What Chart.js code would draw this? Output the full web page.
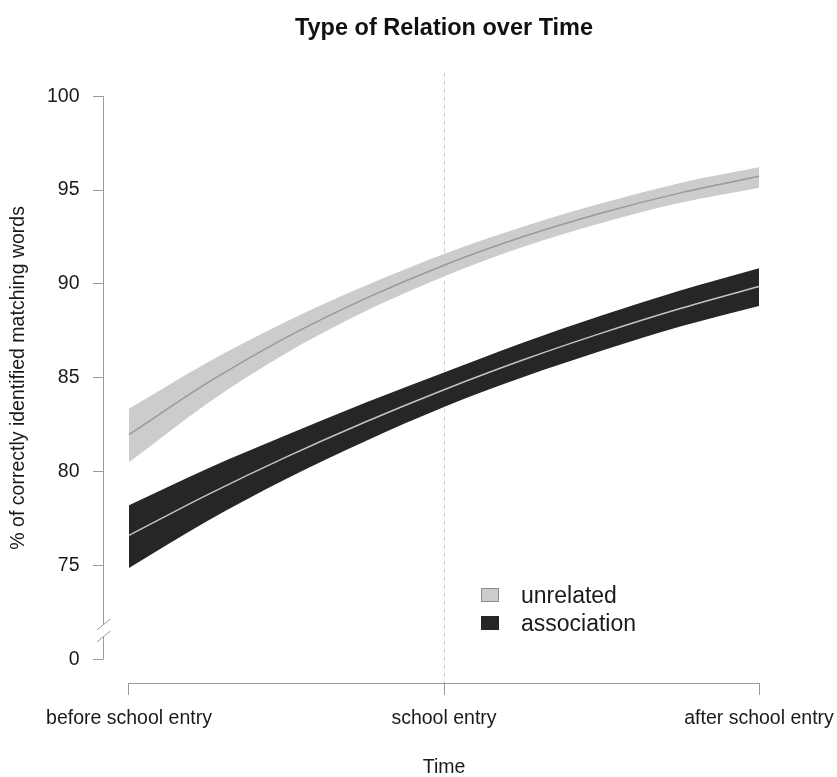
<!DOCTYPE html>
<html>
<head>
<meta charset="utf-8">
<title>Type of Relation over Time</title>
<script src="https://cdn.jsdelivr.net/npm/chart.js@4.4.1/dist/chart.umd.min.js"></script>
<style>
  html, body { margin: 0; padding: 0; background: #fff; }
  #wrap { width: 837px; height: 777px; }
</style>
</head>
<body>
<div id="wrap"><canvas id="relChart" width="837" height="777"></canvas></div>
<script>
// time points (-1 = before school entry, 0 = school entry, 1 = after)
var timePoints = [-1, -0.75, -0.5, -0.25, 0, 0.25, 0.5, 0.75, 1];

var unrelatedFit  = [81.97, 84.74, 87.16, 89.22, 91.0, 92.51, 93.78, 94.85, 95.73];
var unrelatedLow  = [80.5, 83.65, 86.32, 88.54, 90.4, 91.97, 93.25, 94.32, 95.12];
var unrelatedHigh = [83.35, 85.83, 88.0, 89.9, 91.6, 93.05, 94.3, 95.38, 96.21];

var assocFit  = [76.61, 78.78, 80.79, 82.65, 84.37, 85.95, 87.38, 88.69, 89.86];
var assocLow  = [74.88, 77.39, 79.63, 81.63, 83.45, 85.03, 86.44, 87.73, 88.83];
var assocHigh = [78.21, 80.17, 81.95, 83.67, 85.29, 86.87, 88.32, 89.65, 90.83];

var xTickValues = [-1, 0, 1];
var xTickLabels = ['before school entry', 'school entry', 'after school entry'];
var yTickValues = [70, 75, 80, 85, 90, 95, 100];
var yTickLabels = ['0', '75', '80', '85', '90', '95', '100'];

var axisGray = '#9a9a9a';
var fontName = '"Liberation Sans", Arial, Helvetica, sans-serif';

function pts(values) {
  return timePoints.map(function(t, i) { return {x: t, y: values[i]}; });
}

function band(label, values, color, fill) {
  return {
    label: label,
    data: pts(values),
    borderWidth: 0,
    borderColor: color,
    backgroundColor: color,
    pointRadius: 0,
    fill: fill,
    order: 2,
    cubicInterpolationMode: 'monotone'
  };
}

function centre(values, color) {
  return {
    label: '',
    data: pts(values),
    borderWidth: 1.5,
    borderColor: color,
    pointRadius: 0,
    fill: false,
    order: 1,
    cubicInterpolationMode: 'monotone'
  };
}

// axis lines, y-axis break, dashed reference line and legend
var decorations = {
  id: 'decorations',
  beforeDraw: function(chart) {
    var ctx = chart.ctx, area = chart.chartArea;
    var xs = chart.scales.x;
    var x0 = Math.round(xs.getPixelForValue(0)) + 0.5;
    ctx.save();
    ctx.strokeStyle = '#d0d0d0';
    ctx.lineWidth = 1;
    ctx.setLineDash([4, 4]);
    ctx.beginPath();
    ctx.moveTo(x0, area.top);
    ctx.lineTo(x0, area.bottom);
    ctx.stroke();
    ctx.restore();
  },
  afterDraw: function(chart) {
    var ctx = chart.ctx, area = chart.chartArea;
    var xs = chart.scales.x, ys = chart.scales.y;
    var left = area.left + 0.5;
    var bottom = Math.round(area.bottom) + 0.5;

    ctx.save();
    ctx.strokeStyle = axisGray;
    ctx.lineWidth = 1;

    // x axis
    ctx.beginPath();
    ctx.moveTo(xs.getPixelForValue(xTickValues[0]), bottom);
    ctx.lineTo(xs.getPixelForValue(xTickValues[xTickValues.length - 1]), bottom);
    ctx.stroke();

    // y axis with break
    var yTop = ys.getPixelForValue(100);
    var yBottom = ys.getPixelForValue(70);
    var yBreak = ys.getPixelForValue(71.55);
    ctx.beginPath();
    ctx.moveTo(left, yTop);
    ctx.lineTo(left, yBreak - 6);
    ctx.moveTo(left, yBreak + 6);
    ctx.lineTo(left, yBottom);
    // break marks
    ctx.moveTo(left - 6.5, yBreak - 0.5);
    ctx.lineTo(left + 7, yBreak - 11.5);
    ctx.moveTo(left - 6.5, yBreak + 11.5);
    ctx.lineTo(left + 7, yBreak + 0.5);
    ctx.stroke();

    // legend
    var items = chart.data.datasets.filter(function(d) { return d.legendEntry; });
    ctx.font = '23px ' + fontName;
    ctx.textBaseline = 'alphabetic';
    ctx.textAlign = 'left';
    items.forEach(function(d, i) {
      var boxTop = 588 + i * 28;
      ctx.fillStyle = d.backgroundColor;
      ctx.fillRect(481, boxTop, 18, 14);
      ctx.strokeStyle = d.legendEdge;
      ctx.strokeRect(481.5, boxTop + 0.5, 17, 13);
      ctx.fillStyle = '#1a1a1a';
      ctx.fillText(d.label, 521, 603 + i * 28);
    });
    ctx.restore();
  }
};

var unrelatedBand = band('unrelated', unrelatedHigh, '#cccccc', '+1');
unrelatedBand.legendEntry = true;
unrelatedBand.legendEdge = '#8c8c8c';
var assocBand = band('association', assocHigh, '#262626', '+1');
assocBand.legendEntry = true;
assocBand.legendEdge = '#262626';

var ctx = document.getElementById('relChart').getContext('2d');
var chart = new Chart(ctx, {
  type: 'line',
  data: {
    datasets: [
      unrelatedBand,
      band('', unrelatedLow, '#cccccc', false),
      centre(unrelatedFit, '#999999'),
      assocBand,
      band('', assocLow, '#262626', false),
      centre(assocFit, '#c4c4c4')
    ]
  },
  options: {
    responsive: false,
    animation: false,
    layout: { padding: { left: 0, right: 52, top: 0, bottom: 0 } },
    plugins: {
      legend: { display: false },
      tooltip: { enabled: false },
      filler: { drawTime: 'beforeDatasetsDraw' },
      title: {
        display: true,
        fullSize: false,
        text: 'Type of Relation over Time',
        color: '#111',
        font: { family: fontName, size: 23.5, weight: 'bold', lineHeight: 1.2 },
        padding: { top: 14.5, bottom: 30 }
      }
    },
    scales: {
      x: {
        type: 'linear',
        min: -1.0825,
        max: 1.0825,
        border: { display: false },
        grid: {
          drawOnChartArea: false,
          drawTicks: true,
          tickLength: 12,
          tickColor: axisGray,
          color: axisGray
        },
        afterBuildTicks: function(scale) {
          scale.ticks = xTickValues.map(function(v) { return {value: v}; });
        },
        afterFit: function(scale) {
          scale.height = 94;
          scale.paddingLeft = 0;
          scale.paddingRight = 0;
        },
        ticks: {
          maxRotation: 0,
          autoSkip: false,
          padding: 12,
          color: '#1a1a1a',
          font: { family: fontName, size: 19.5 },
          callback: function(v) {
            var i = xTickValues.indexOf(v);
            return i >= 0 ? xTickLabels[i] : '';
          }
        },
        title: {
          display: true,
          text: 'Time',
          color: '#1a1a1a',
          font: { family: fontName, size: 19.5, lineHeight: 1.0 },
          padding: { top: 0, bottom: 0 }
        }
      },
      y: {
        type: 'linear',
        min: 68.75,
        max: 101.25,
        border: { display: false },
        grid: {
          drawOnChartArea: false,
          drawTicks: true,
          tickLength: 10,
          tickColor: axisGray,
          color: axisGray
        },
        afterBuildTicks: function(scale) {
          scale.ticks = yTickValues.map(function(v) { return {value: v}; });
        },
        afterFit: function(scale) {
          scale.width = 103;
          scale.paddingTop = 0;
          scale.paddingBottom = 0;
        },
        ticks: {
          padding: 13.5,
          color: '#1a1a1a',
          font: { family: fontName, size: 19.5 },
          callback: function(v) {
            var i = yTickValues.indexOf(v);
            return i >= 0 ? yTickLabels[i] : '';
          }
        },
        title: {
          display: true,
          text: '% of correctly identified matching words',
          color: '#1a1a1a',
          font: { family: fontName, size: 19.5, lineHeight: 1.2 },
          padding: { top: 7, bottom: 0 }
        }
      }
    }
  },
  plugins: [decorations]
});
</script>
</body>
</html>
